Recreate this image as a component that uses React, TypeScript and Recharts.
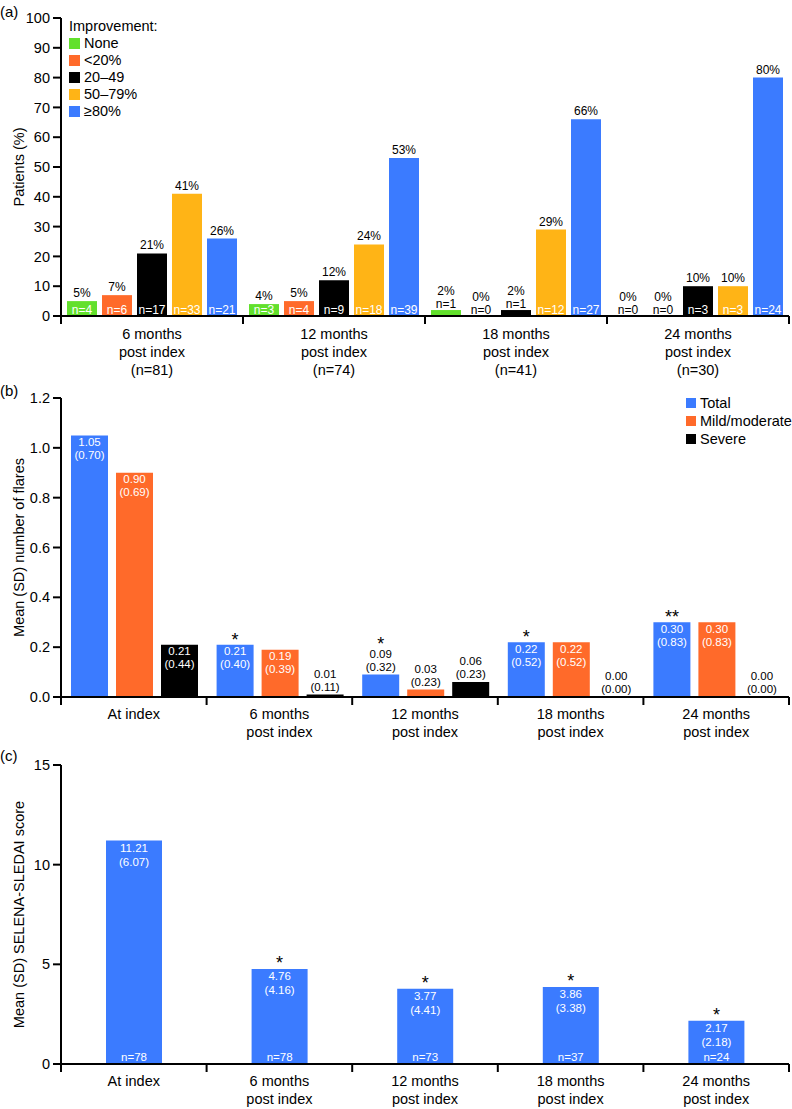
import React from 'react';
import { BarChart, Bar, XAxis, YAxis, Legend, LabelList } from 'recharts';

// ---------- (a) improvement in SLE disease activity ----------
const improvementCats = [
  '6 months|post index|(n=81)',
  '12 months|post index|(n=74)',
  '18 months|post index|(n=41)',
  '24 months|post index|(n=30)',
];
const improvementNames = ['None', '<20%', '20–49', '50–79%', '≥80%'];
const pctNone = [5, 4, 2, 0];
const pctLt20 = [7, 5, 0, 0];
const pct20to49 = [21, 12, 2, 10];
const pct50to79 = [41, 24, 29, 10];
const pctGe80 = [26, 53, 66, 80];
const nNone = [4, 3, 1, 0];
const nLt20 = [6, 4, 0, 0];
const n20to49 = [17, 9, 1, 3];
const n50to79 = [33, 18, 12, 3];
const nGe80 = [21, 39, 27, 24];
const improvementTicks = [0, 10, 20, 30, 40, 50, 60, 70, 80, 90, 100];

// ---------- (b) flares ----------
const timeCats = [
  'At index',
  '6 months|post index',
  '12 months|post index',
  '18 months|post index',
  '24 months|post index',
];
const flareNames = ['Total', 'Mild/moderate', 'Severe'];
const flareTotal = [1.05, 0.21, 0.09, 0.22, 0.3];
const flareTotalSd = [0.7, 0.4, 0.32, 0.52, 0.83];
const flareMild = [0.9, 0.19, 0.03, 0.22, 0.3];
const flareMildSd = [0.69, 0.39, 0.23, 0.52, 0.83];
const flareSevere = [0.21, 0.01, 0.06, 0.0, 0.0];
const flareSevereSd = [0.44, 0.11, 0.23, 0.0, 0.0];
const flareStars = ['', '*', '*', '*', '**'];
const flareTicks = [0, 0.2, 0.4, 0.6, 0.8, 1.0, 1.2];

// ---------- (c) SELENA-SLEDAI ----------
const sledaiMean = [11.21, 4.76, 3.77, 3.86, 2.17];
const sledaiSd = [6.07, 4.16, 4.41, 3.38, 2.18];
const sledaiN = [78, 78, 73, 37, 24];
const sledaiStars = ['', '*', '*', '*', '*'];
const sledaiTicks = [0, 5, 10, 15];

const COLORS = {
  green: '#62e02c',
  orange: '#ff6a2a',
  black: '#000000',
  gold: '#ffb416',
  blue: '#3b7bff',
};

const FONT = '"Liberation Sans", Arial, Helvetica, sans-serif';

const improvementData = improvementCats.map((cat, i) => ({
  cat,
  none: pctNone[i],
  lt20: pctLt20[i],
  r20: pct20to49[i],
  r50: pct50to79[i],
  ge80: pctGe80[i],
}));

const flareData = timeCats.map((cat, i) => ({
  cat,
  total: flareTotal[i],
  mild: flareMild[i],
  severe: flareSevere[i],
}));

const sledaiData = timeCats.map((cat, i) => ({ cat, mean: sledaiMean[i] }));

// x-axis tick: multi-line category text + boundary tick marks
function makeCategoryTick(count: number, firstDy: number, lineGap: number) {
  return (props: any) => {
    const { x, y, payload, index } = props;
    const half = payload.offset ?? 0;
    const lines = String(payload.value).split('|');
    return (
      <g>
        <line x1={x - half} x2={x - half} y1={y} y2={y + 8} stroke="#000" strokeWidth={2} />
        {index === count - 1 && (
          <line x1={x + half} x2={x + half} y1={y} y2={y + 8} stroke="#000" strokeWidth={2} />
        )}
        <text x={x} y={y + firstDy} textAnchor="middle" fontSize={14.5} fontFamily={FONT} fill="#000">
          {lines.map((l, i) => (
            <tspan key={i} x={x} dy={i === 0 ? 0 : lineGap}>
              {l}
            </tspan>
          ))}
        </text>
      </g>
    );
  };
}

function yTitle(text: string, cx: number) {
  return (props: any) => {
    const vb = props.viewBox;
    const x = cx;
    const y = vb.y + vb.height / 2;
    return (
      <text
        x={x}
        y={y}
        transform={`rotate(-90 ${x} ${y})`}
        textAnchor="middle"
        dominantBaseline="central"
        fontSize={14.5}
        fontFamily={FONT}
        fill="#000"
      >
        {text}
      </text>
    );
  };
}

// (a) labels: percentage above bar, n inside bar (or above if bar too short)
function pctLabel(pcts: number[], ns: number[]) {
  return (props: any) => {
    const { x, y, width, height, index } = props;
    const cx = x + width / 2;
    const v = pcts[index];
    const bottom = y + height;
    const small = v < 4;
    return (
      <g fontFamily={FONT} fontSize={12} textAnchor="middle">
        {small ? (
          <>
            <text x={cx} y={y - 15} fill="#000">{`${v}%`}</text>
            <text x={cx} y={y - 2} fill="#000">{`n=${ns[index]}`}</text>
          </>
        ) : (
          <>
            <text x={cx} y={y - 4} fill="#000">{`${v}%`}</text>
            <text x={cx} y={bottom - 2} fill="#fff">{`n=${ns[index]}`}</text>
          </>
        )}
      </g>
    );
  };
}

// (b) labels: mean and (SD), inside bar when there is room
function flareLabel(means: number[], sds: number[], stars?: string[]) {
  return (props: any) => {
    const { x, y, width, index } = props;
    const cx = x + width / 2;
    const m = means[index];
    const inside = m >= 0.15;
    const star = stars ? stars[index] : '';
    const t1 = inside ? y + 10.5 : y - 17;
    const t2 = inside ? y + 23.5 : y - 4;
    const fill = inside ? '#fff' : '#000';
    const starY = inside ? y + 1 : y - 25;
    return (
      <g fontFamily={FONT} textAnchor="middle">
        <text x={cx} y={t1} fontSize={11.5} fill={fill}>{m.toFixed(2)}</text>
        <text x={cx} y={t2} fontSize={11.5} fill={fill}>{`(${sds[index].toFixed(2)})`}</text>
        {star && (
          <text x={cx} y={starY} fontSize={18} fill="#000">{star}</text>
        )}
      </g>
    );
  };
}

function sledaiLabel(props: any) {
  const { x, y, width, height, index } = props;
  const cx = x + width / 2;
  const star = sledaiStars[index];
  return (
    <g fontFamily={FONT} textAnchor="middle" fontSize={11.5}>
      <text x={cx} y={y + 11} fill="#fff">{sledaiMean[index].toFixed(2)}</text>
      <text x={cx} y={y + 25} fill="#fff">{`(${sledaiSd[index].toFixed(2)})`}</text>
      <text x={cx} y={y + height - 3} fill="#fff">{`n=${sledaiN[index]}`}</text>
      {star && (
        <text x={cx} y={y} fontSize={18} fill="#000">{star}</text>
      )}
    </g>
  );
}

function legendContent(title: string | null, order: string[], rowH: number, box: number) {
  return (props: any) => {
    const items = [...(props.payload || [])].sort(
      (a: any, b: any) => order.indexOf(a.value) - order.indexOf(b.value)
    );
    return (
      <div style={{ fontFamily: FONT, fontSize: 14.5, color: '#000', lineHeight: `${rowH}px` }}>
        {title && <div style={{ height: rowH }}>{title}</div>}
        {items.map((it: any, i: number) => (
          <div key={i} style={{ display: 'flex', alignItems: 'center', height: rowH, whiteSpace: 'nowrap' }}>
            <span style={{ display: 'inline-block', width: box, height: box, background: it.color, marginRight: 4 }} />
            <span>{it.value}</span>
          </div>
        ))}
      </div>
    );
  };
}

const axisLine = { stroke: '#000', strokeWidth: 2 };
const tickStyle = { fontSize: 14.5, fill: '#000', fontFamily: FONT };

const panelLetter: React.CSSProperties = {
  position: 'absolute',
  left: 0,
  fontFamily: FONT,
  fontSize: 15,
  lineHeight: '16px',
  color: '#000',
};

export default function App() {
  return (
    <div style={{ position: 'absolute', left: 0, top: 0, width: 792, height: 1109, background: '#fff' }}>
      <div style={{ ...panelLetter, top: 4 }}>(a)</div>
      <div style={{ ...panelLetter, top: 383 }}>(b)</div>
      <div style={{ ...panelLetter, top: 748 }}>(c)</div>

      {/* (a) */}
      <div style={{ position: 'absolute', left: 0, top: 0 }}>
        <BarChart
          width={792}
          height={386}
          data={improvementData}
          margin={{ top: 18, right: 3, bottom: 0, left: 0 }}
          barCategoryGap={6}
          barGap={5}
        >
          <XAxis
            dataKey="cat"
            height={70}
            axisLine={axisLine}
            tickLine={false}
            tickSize={0}
            tickMargin={0}
            interval={0}
            tick={makeCategoryTick(improvementCats.length, 23, 18)}
          />
          <YAxis
            width={61}
            domain={[0, 100]}
            ticks={improvementTicks}
            interval={0}
            axisLine={axisLine}
            tickLine={axisLine}
            tickSize={8}
            tickMargin={3}
            tick={tickStyle}
            label={{ content: yTitle('Patients (%)', 19) }}
          />
          <Legend
            layout="vertical"
            align="center"
            verticalAlign="middle"
            wrapperStyle={{ left: 69, top: 18, width: 'auto', height: 'auto' }}
            content={legendContent('Improvement:', improvementNames, 17, 11)}
          />
          <Bar dataKey="none" name={improvementNames[0]} fill={COLORS.green} minPointSize={0.01} isAnimationActive={false}>
            <LabelList dataKey="none" content={pctLabel(pctNone, nNone)} />
          </Bar>
          <Bar dataKey="lt20" name={improvementNames[1]} fill={COLORS.orange} minPointSize={0.01} isAnimationActive={false}>
            <LabelList dataKey="lt20" content={pctLabel(pctLt20, nLt20)} />
          </Bar>
          <Bar dataKey="r20" name={improvementNames[2]} fill={COLORS.black} minPointSize={0.01} isAnimationActive={false}>
            <LabelList dataKey="r20" content={pctLabel(pct20to49, n20to49)} />
          </Bar>
          <Bar dataKey="r50" name={improvementNames[3]} fill={COLORS.gold} minPointSize={0.01} isAnimationActive={false}>
            <LabelList dataKey="r50" content={pctLabel(pct50to79, n50to79)} />
          </Bar>
          <Bar dataKey="ge80" name={improvementNames[4]} fill={COLORS.blue} minPointSize={0.01} isAnimationActive={false}>
            <LabelList dataKey="ge80" content={pctLabel(pctGe80, nGe80)} />
          </Bar>
        </BarChart>
      </div>

      {/* (b) */}
      <div style={{ position: 'absolute', left: 0, top: 380 }}>
        <BarChart
          width={792}
          height={367}
          data={flareData}
          margin={{ top: 18, right: 3, bottom: 0, left: 0 }}
          barCategoryGap={10}
          barGap={8}
        >
          <XAxis
            dataKey="cat"
            height={50}
            axisLine={axisLine}
            tickLine={false}
            tickSize={0}
            tickMargin={0}
            interval={0}
            tick={makeCategoryTick(timeCats.length, 22, 18)}
          />
          <YAxis
            width={61}
            domain={[0, 1.2]}
            ticks={flareTicks}
            interval={0}
            axisLine={axisLine}
            tickLine={axisLine}
            tickSize={8}
            tickMargin={3}
            tick={tickStyle}
            tickFormatter={(v: number) => v.toFixed(1)}
            label={{ content: yTitle('Mean (SD) number of flares', 19) }}
          />
          <Legend
            layout="vertical"
            align="center"
            verticalAlign="middle"
            wrapperStyle={{ left: 686, top: 14, width: 'auto', height: 'auto' }}
            content={legendContent(null, flareNames, 18, 10)}
          />
          <Bar dataKey="total" name={flareNames[0]} fill={COLORS.blue} minPointSize={0.01} isAnimationActive={false}>
            <LabelList dataKey="total" content={flareLabel(flareTotal, flareTotalSd, flareStars)} />
          </Bar>
          <Bar dataKey="mild" name={flareNames[1]} fill={COLORS.orange} minPointSize={0.01} isAnimationActive={false}>
            <LabelList dataKey="mild" content={flareLabel(flareMild, flareMildSd)} />
          </Bar>
          <Bar dataKey="severe" name={flareNames[2]} fill={COLORS.black} minPointSize={0.01} isAnimationActive={false}>
            <LabelList dataKey="severe" content={flareLabel(flareSevere, flareSevereSd)} />
          </Bar>
        </BarChart>
      </div>

      {/* (c) */}
      <div style={{ position: 'absolute', left: 0, top: 747 }}>
        <BarChart
          width={792}
          height={362}
          data={sledaiData}
          margin={{ top: 18, right: 3, bottom: 0, left: 0 }}
          barCategoryGap={45}
        >
          <XAxis
            dataKey="cat"
            height={45}
            axisLine={axisLine}
            tickLine={false}
            tickSize={0}
            tickMargin={0}
            interval={0}
            tick={makeCategoryTick(timeCats.length, 22, 18)}
          />
          <YAxis
            width={61}
            domain={[0, 15]}
            ticks={sledaiTicks}
            interval={0}
            axisLine={axisLine}
            tickLine={axisLine}
            tickSize={8}
            tickMargin={3}
            tick={tickStyle}
            label={{ content: yTitle('Mean (SD) SELENA-SLEDAI score', 19) }}
          />
          <Bar dataKey="mean" fill={COLORS.blue} isAnimationActive={false}>
            <LabelList dataKey="mean" content={sledaiLabel} />
          </Bar>
        </BarChart>
      </div>
    </div>
  );
}
